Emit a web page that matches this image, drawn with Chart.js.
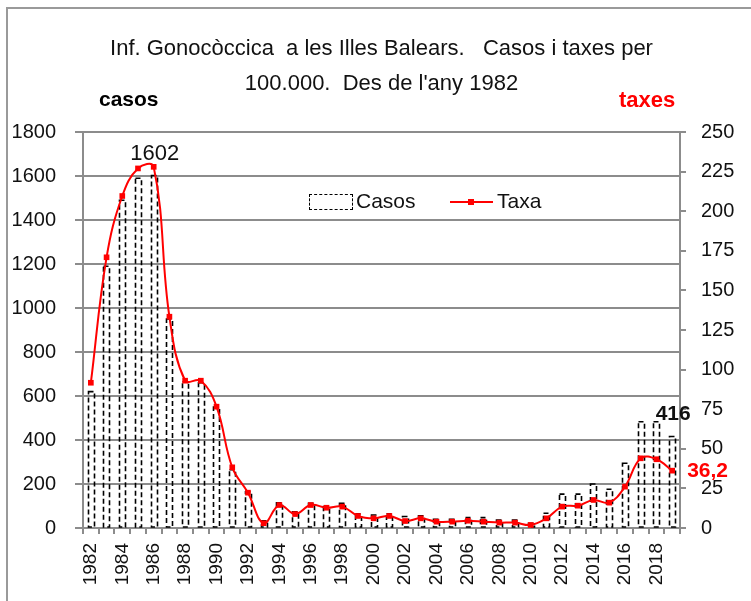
<!DOCTYPE html>
<html>
<head>
<meta charset="utf-8">
<script src="https://cdn.jsdelivr.net/npm/chart.js@4.4.0/dist/chart.umd.min.js"></script>
<style>
  html, body { margin: 0; padding: 0; background: #fff; }
  #wrap { position: relative; width: 751px; height: 601px; overflow: hidden; }
  #frame { position: absolute; left: 6px; top: 7px; width: 800px; height: 700px;
           border-left: 2px solid #9a9a9a; border-top: 2px solid #9a9a9a; }
  canvas { position: absolute; left: 0; top: 0; }
  .txt { position: absolute; white-space: pre; font-family: 'Liberation Sans', Arial, sans-serif; color: #111; }
  #title { left: 0; width: 763px; top: 30px; text-align: center; font-size: 22px; line-height: 35px; }
  #casos { left: 99px; top: 87px; font-size: 21px; font-weight: bold; line-height: 24px; color: #000; }
  #taxes { left: 619px; top: 88px; font-size: 22px; font-weight: bold; line-height: 24px; color: #ff0000; }
  #legBox { position: absolute; left: 309px; top: 194px; width: 42px; height: 14px; border: 1.5px dashed #000; }
  #legCasos { left: 356px; top: 188px; font-size: 21px; line-height: 26px; }
  #legLine { position: absolute; left: 450px; top: 201px; width: 43px; height: 2px; background: #ff0000; }
  #legMark { position: absolute; left: 468px; top: 199px; width: 6px; height: 6px; background: #ff0000; }
  #legTaxa { left: 497px; top: 188px; font-size: 21px; line-height: 26px; }
</style>
</head>
<body>
<div id="wrap">
  <div id="frame"></div>
  <canvas id="chart" width="751" height="601"></canvas>
  <div id="title" class="txt">Inf. Gonocòccica  a les Illes Balears.   Casos i taxes per
100.000.  Des de l'any 1982</div>
  <div id="casos" class="txt">casos</div>
  <div id="taxes" class="txt">taxes</div>
  <div id="legBox"></div>
  <div id="legCasos" class="txt">Casos</div>
  <div id="legLine"></div>
  <div id="legMark"></div>
  <div id="legTaxa" class="txt">Taxa</div>
</div>
<script>
// anys 1982-2019
const anys = ['1982','1983','1984','1985','1986','1987','1988','1989','1990','1991',
              '1992','1993','1994','1995','1996','1997','1998','1999','2000','2001',
              '2002','2003','2004','2005','2006','2007','2008','2009','2010','2011',
              '2012','2013','2014','2015','2016','2017','2018','2019'];

// casos declarats
const casos = [620, 1190, 1490, 1590, 1602, 950, 665, 660, 550, 265,
               165, 33, 115, 74, 112, 97, 112, 64, 59, 64,
               52, 56, 40, 40, 47, 47, 36, 36, 21, 67,
               154, 154, 200, 176, 294, 483, 483, 416];

// taxa per 100.000 hab.
const taxa = [91.7, 170.9, 209.6, 227, 228, 133.4, 93, 93, 76.6, 38.3,
              22.3, 3, 14.5, 8.8, 14.5, 12.8, 13.5, 7.6, 6.1, 7.6,
              4.4, 6.1, 4, 4, 4.6, 4, 3.4, 3.4, 1.9, 6.1,
              13.5, 14.1, 17.7, 16, 26.1, 44, 43.4, 36.2];

const casosMax = 1800, casosStep = 200;
const taxaMax = 250, taxaStep = 25;

const gridGray = '#8c8c8c';

// les barres d'Excel tenen contorn discontinu
const dashedBars = {
    id: 'dashedBars',
    afterDatasetDraw(chart, args) {
        if (args.index !== 1) return;
        const ctx = chart.ctx;
        ctx.save();
        ctx.setLineDash([5, 3]);
        ctx.lineWidth = 1.6;
        ctx.strokeStyle = '#000';
        args.meta.data.forEach(el => {
            const p = el.getProps(['x', 'y', 'base', 'width'], true);
            const left = Math.round(p.x - p.width / 2) + 0.5;
            ctx.strokeRect(left, p.y, Math.round(p.width), p.base - p.y);
        });
        ctx.restore();
    }
};

// etiquetes de valors destacats
const valueLabels = {
    id: 'valueLabels',
    afterDatasetsDraw(chart) {
        const ctx = chart.ctx;
        const bars = chart.getDatasetMeta(1).data;
        const pts = chart.getDatasetMeta(0).data;
        const iMax = casos.indexOf(Math.max(...casos));
        const iLast = casos.length - 1;
        ctx.save();
        ctx.textAlign = 'center';
        ctx.textBaseline = 'alphabetic';
        ctx.fillStyle = '#111';
        ctx.font = '22px "Liberation Sans", Arial, sans-serif';
        ctx.fillText(String(casos[iMax]), bars[iMax].x + 1, bars[iMax].y - 16);
        ctx.font = 'bold 21px "Liberation Sans", Arial, sans-serif';
        ctx.fillText(String(casos[iLast]), bars[iLast].x + 1, bars[iLast].y - 16);
        ctx.fillStyle = '#ff0000';
        ctx.textAlign = 'left';
        ctx.textBaseline = 'middle';
        ctx.fillText(String(taxa[iLast]).replace('.', ','), pts[iLast].x + 15, pts[iLast].y + 1);
        ctx.restore();
    }
};

new Chart(document.getElementById('chart'), {
    type: 'bar',
    data: {
        labels: anys,
        datasets: [
            {
                type: 'line',
                label: 'Taxa',
                data: taxa,
                yAxisID: 'y1',
                order: 0,
                borderColor: '#ff0000',
                borderWidth: 2,
                backgroundColor: '#ff0000',
                pointStyle: 'rect',
                pointRadius: 4,
                pointBorderWidth: 0,
                pointBackgroundColor: '#ff0000',
                tension: 0.4,
                fill: false
            },
            {
                label: 'Casos',
                data: casos,
                yAxisID: 'y',
                order: 1,
                backgroundColor: 'rgba(0,0,0,0)',
                borderWidth: 0,
                categoryPercentage: 1,
                barPercentage: 0.4
            }
        ]
    },
    options: {
        responsive: false,
        animation: false,
        devicePixelRatio: 1,
        layout: { padding: { top: 132, left: 0, right: 0, bottom: 0 } },
        plugins: {
            legend: { display: false },
            tooltip: { enabled: false },
            title: { display: false }
        },
        scales: {
            x: {
                grid: { drawOnChartArea: false, drawTicks: true, tickLength: 6, color: gridGray, lineWidth: 2 },
                border: { color: gridGray, width: 2 },
                ticks: {
                    autoSkip: false,
                    minRotation: 90,
                    maxRotation: 90,
                    padding: 9,
                    color: '#111',
                    font: { family: '"Liberation Sans", Arial, sans-serif', size: 19 },
                    callback: (v, i) => (i % 2 === 0 ? anys[i] : '')
                },
                afterFit: s => { s.height = 73; }
            },
            y: {
                position: 'left',
                min: 0,
                max: casosMax,
                ticks: {
                    stepSize: casosStep,
                    padding: 19,
                    color: '#111',
                    font: { family: '"Liberation Sans", Arial, sans-serif', size: 20 },
                    callback: v => String(v)
                },
                grid: { color: gridGray, lineWidth: 2, tickLength: 8 },
                border: { color: gridGray, width: 2 },
                afterFit: s => { s.width = 83; }
            },
            y1: {
                position: 'right',
                min: 0,
                max: taxaMax,
                ticks: {
                    stepSize: taxaStep,
                    padding: 15,
                    color: '#111',
                    font: { family: '"Liberation Sans", Arial, sans-serif', size: 20 },
                    callback: v => String(v)
                },
                grid: { drawOnChartArea: false, color: gridGray, lineWidth: 2, tickLength: 6 },
                border: { color: gridGray, width: 2 },
                afterFit: s => { s.width = 71; }
            }
        }
    },
    plugins: [dashedBars, valueLabels]
});
</script>
</body>
</html>
